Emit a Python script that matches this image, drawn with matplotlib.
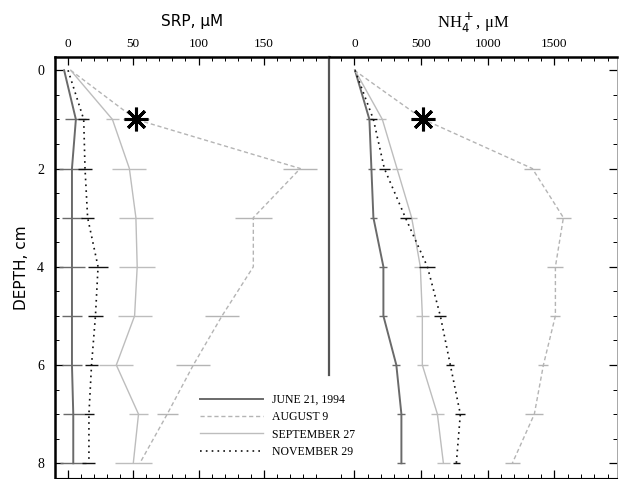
import numpy as np
import matplotlib.pyplot as plt
from matplotlib.ticker import MultipleLocator

plt.rcParams['font.family'] = ['Liberation Serif', 'DejaVu Serif']

# glebokosc (cm)
depth = [0, 1, 2, 3, 4, 5, 6, 7, 8]

# SRP, uM
srp_june = [-3, 6, 3, 3, 3, 3, 3, 4, 4]
srp_aug = [2, 52, 178, 142, 142, 118, 96, 76, 55]
srp_sep = [2, 34, 47, 52, 53, 51, 37, 54, 50]
srp_nov = [0, 12, 13, 15, 23, 21, 18, 16, 16]
srp_june_err = [0, 8, 10, 8, 10, 8, 8, 8, 10]
srp_aug_err = [0, 10, 13, 14, 0, 13, 13, 8, 0]
srp_sep_err = [0, 5, 13, 13, 14, 13, 13, 7, 14]
srp_nov_err = [0, 4, 5, 5, 8, 6, 5, 4, 5]

# NH4+, uM
nh4_june = [5, 113, 128, 143, 218, 218, 315, 353, 353]
nh4_aug = [0, 518, 1335, 1568, 1508, 1508, 1418, 1350, 1185]
nh4_sep = [5, 210, 320, 430, 495, 510, 510, 623, 668]
nh4_nov = [5, 143, 225, 383, 548, 645, 720, 795, 765]
nh4_june_err = [0, 25, 25, 25, 30, 30, 30, 30, 30]
nh4_aug_err = [0, 0, 60, 55, 60, 38, 38, 68, 55]
nh4_sep_err = [0, 30, 40, 40, 50, 50, 40, 50, 50]
nh4_nov_err = [0, 25, 40, 40, 60, 45, 30, 38, 25]

labels = ['JUNE 21, 1994', 'AUGUST 9', 'SEPTEMBER 27', 'NOVEMBER 29']

# gwiazdki (sierpien, 1 cm)
star_depth = 1
star_srp = 52
star_nh4 = 518

styles = [
    dict(color='#6a6a6a', lw=1.4, ls='-'),
    dict(color='#b4b4b4', lw=1.0, ls=(0, (3, 2))),
    dict(color='#bdbdbd', lw=1.0, ls='-'),
    dict(color='#111111', lw=1.2, ls=(0, (1, 2.5))),
]

fig = plt.figure(figsize=(6.27, 4.79), dpi=100)
W, H = 627, 479
x0, xm, x1 = 55, 329, 617
y0, y1 = 57, 478
ax1 = fig.add_axes([x0 / W, 1 - y1 / H, (xm - x0) / W, (y1 - y0) / H])
ax2 = fig.add_axes([xm / W, 1 - y1 / H, (x1 - xm) / W, (y1 - y0) / H])

panels = [
    (ax1, [srp_june, srp_aug, srp_sep, srp_nov],
     [srp_june_err, srp_aug_err, srp_sep_err, srp_nov_err], star_srp, (-10, 200), 50, 10),
    (ax2, [nh4_june, nh4_aug, nh4_sep, nh4_nov],
     [nh4_june_err, nh4_aug_err, nh4_sep_err, nh4_nov_err], star_nh4, (-190, 1970), 500, 100),
]

handles = []
for ax, series, errs, star_x, xlim, major, minor in panels:
    handles = []
    for vals, err, st, lab in zip(series, errs, styles, labels):
        h, = ax.plot(vals, depth, label=lab, **st)
        handles.append(h)
        ax.errorbar(vals, depth, xerr=err, fmt='none', ecolor=st['color'],
                    elinewidth=1.0, capsize=0)
    ax.plot(star_x, star_depth, marker=(8, 2, 0), ms=17, mew=2.2, color='black', ls='none')
    ax.plot(star_x, star_depth, marker='o', ms=4, color='black', ls='none')
    ax.set_xlim(*xlim)
    ax.set_ylim(8.3, -0.27)
    ax.xaxis.set_major_locator(MultipleLocator(major))
    ax.xaxis.set_minor_locator(MultipleLocator(minor))
    ax.yaxis.set_major_locator(MultipleLocator(2))
    ax.yaxis.set_minor_locator(MultipleLocator(0.5))
    ax.xaxis.tick_top()
    ax.tick_params(axis='x', which='both', top=True, bottom=True, direction='in',
                   labeltop=True, labelbottom=False, labelsize=9.5, pad=5)
    ax.tick_params(which='major', length=6, width=0.9)
    ax.tick_params(which='minor', length=3, width=0.7)
    ax.spines['top'].set_linewidth(1.8)

ax1.set_xticks([0, 50, 100, 150])
ax2.set_xticks([0, 500, 1000, 1500])

ax1.spines['right'].set_visible(False)
ax1.spines['left'].set_linewidth(1.8)
ax1.tick_params(axis='y', which='both', left=True, right=False, direction='in',
                labelsize=10, pad=8)
ax1.set_ylabel('DEPTH, cm', family=['DejaVu Sans'], fontsize=11, labelpad=6)
ax1.set_title('SRP, μM', family=['DejaVu Sans'], fontsize=11, pad=22)

ax2.spines['left'].set_visible(False)
ax2.spines['right'].set_linewidth(0.6)
ax2.spines['right'].set_color('#999999')
ax2.tick_params(axis='y', which='both', left=False, right=True, direction='in',
                labelleft=False, labelright=False)
ax2.set_title('NH$_4^+$, μM', fontsize=12, pad=21)

# linia dzielaca panele
ax2.plot([-190, -190], [-0.27, 6.2], color='#555555', lw=1.6, clip_on=False)

fig.legend(handles, labels, loc='upper left', bbox_to_anchor=(200 / W, 1 - 394 / H),
           frameon=False, fontsize=8.5,
           handlelength=5.3, handletextpad=0.8, labelspacing=0.45,
           borderpad=0, borderaxespad=0)

fig.savefig('out.png', dpi=100)
